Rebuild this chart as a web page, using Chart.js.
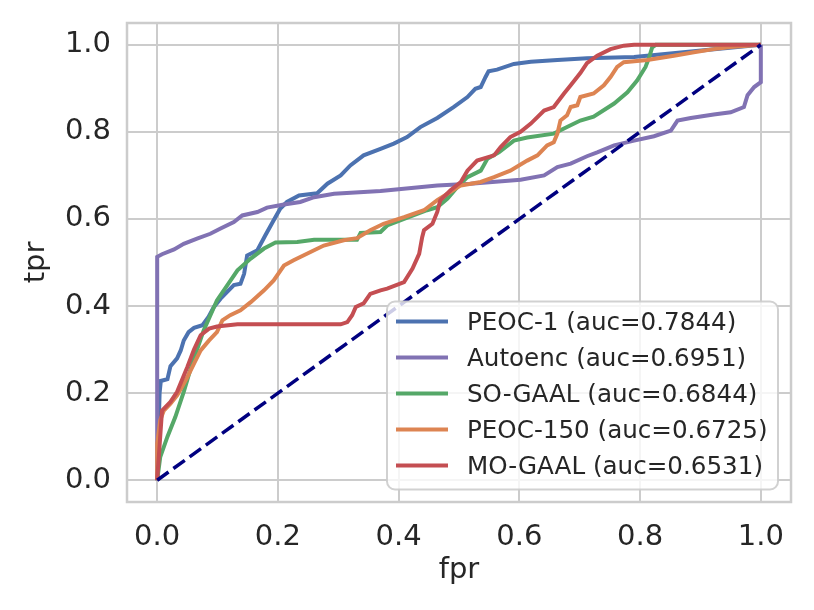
<!DOCTYPE html>
<html>
<head>
<meta charset="utf-8">
<script src="https://cdn.jsdelivr.net/npm/chart.js@4"></script>
<style>
  html, body { margin: 0; padding: 0; background: #fff; }
  #roc { display: block; }
</style>
</head>
<body>
<canvas id="roc" width="814" height="610"></canvas>
<script>
// ROC curves as [fpr, tpr] points
const peoc1 = [
    [0, 0], [0.004, 0.2], [0.006, 0.228], [0.017, 0.232], [0.022, 0.262], [0.033, 0.28], [0.039, 0.298],
    [0.044, 0.321], [0.052, 0.34], [0.061, 0.35], [0.075, 0.356], [0.085, 0.375], [0.094, 0.398],
    [0.105, 0.417], [0.127, 0.448], [0.138, 0.451], [0.144, 0.474], [0.149, 0.516], [0.166, 0.528],
    [0.179, 0.562], [0.193, 0.597], [0.204, 0.624], [0.215, 0.639], [0.235, 0.654], [0.265, 0.659],
    [0.282, 0.681], [0.304, 0.7], [0.32, 0.723], [0.342, 0.746], [0.37, 0.761], [0.392, 0.773],
    [0.414, 0.788], [0.436, 0.811], [0.464, 0.832], [0.491, 0.857], [0.514, 0.88], [0.527, 0.899],
    [0.536, 0.903], [0.544, 0.926], [0.549, 0.939], [0.563, 0.943], [0.591, 0.956], [0.619, 0.961],
    [0.663, 0.965], [0.712, 0.969], [0.79, 0.972], [1, 1]
]
const autoenc = [
    [0, 0], [0, 0.513], [0.008, 0.519], [0.028, 0.53], [0.044, 0.543], [0.066, 0.555], [0.088, 0.566],
    [0.105, 0.578], [0.127, 0.593], [0.141, 0.608], [0.166, 0.616], [0.182, 0.626], [0.21, 0.633],
    [0.237, 0.639], [0.26, 0.65], [0.293, 0.658], [0.37, 0.664], [0.464, 0.677], [0.519, 0.681],
    [0.602, 0.69], [0.641, 0.7], [0.663, 0.719], [0.685, 0.727], [0.712, 0.744], [0.729, 0.753],
    [0.757, 0.769], [0.79, 0.78], [0.823, 0.79], [0.851, 0.803], [0.862, 0.826], [0.884, 0.832],
    [0.922, 0.84], [0.95, 0.845], [0.972, 0.857], [0.978, 0.884], [0.989, 0.903], [1, 0.914], [1, 1]
]
const soGaal = [
    [0, 0], [0.005, 0.053], [0.017, 0.1], [0.03, 0.145], [0.044, 0.203], [0.058, 0.268], [0.077, 0.344],
    [0.099, 0.413], [0.133, 0.482], [0.155, 0.509], [0.177, 0.532], [0.196, 0.546], [0.232, 0.547],
    [0.26, 0.552], [0.331, 0.552], [0.337, 0.568], [0.37, 0.57], [0.381, 0.585], [0.409, 0.6],
    [0.447, 0.62], [0.464, 0.627], [0.481, 0.647], [0.497, 0.673], [0.514, 0.696], [0.536, 0.711],
    [0.547, 0.738], [0.566, 0.753], [0.591, 0.78], [0.613, 0.787], [0.657, 0.796], [0.679, 0.811],
    [0.701, 0.826], [0.723, 0.835], [0.757, 0.865], [0.779, 0.891], [0.795, 0.918], [0.809, 0.949],
    [0.815, 0.971], [0.82, 0.994], [0.826, 1], [1, 1]
]
const peoc150 = [
    [0, 0], [0, 0.084], [0.005, 0.138], [0.011, 0.16], [0.022, 0.176], [0.033, 0.195], [0.041, 0.214],
    [0.05, 0.237], [0.061, 0.268], [0.072, 0.298], [0.086, 0.321], [0.099, 0.34], [0.108, 0.367],
    [0.121, 0.379], [0.138, 0.39], [0.155, 0.409], [0.177, 0.436], [0.193, 0.459], [0.21, 0.493],
    [0.226, 0.505], [0.254, 0.524], [0.276, 0.539], [0.309, 0.551], [0.331, 0.556], [0.353, 0.574],
    [0.375, 0.589], [0.409, 0.604], [0.442, 0.62], [0.464, 0.643], [0.503, 0.677], [0.536, 0.685],
    [0.558, 0.696], [0.585, 0.711], [0.613, 0.734], [0.63, 0.746], [0.646, 0.769], [0.657, 0.776],
    [0.663, 0.796], [0.668, 0.826], [0.679, 0.838], [0.685, 0.857], [0.696, 0.861], [0.701, 0.88],
    [0.723, 0.888], [0.74, 0.907], [0.751, 0.926], [0.762, 0.949], [0.773, 0.96], [0.812, 0.965],
    [0.856, 0.975], [0.889, 0.983], [0.922, 0.99], [0.95, 0.995], [1, 1]
]
const moGaal = [
    [0, 0], [0.008, 0.16], [0.022, 0.18], [0.033, 0.203], [0.05, 0.26], [0.061, 0.3], [0.072, 0.333],
    [0.086, 0.348], [0.099, 0.353], [0.133, 0.358], [0.304, 0.358], [0.315, 0.363], [0.323, 0.379],
    [0.329, 0.398], [0.342, 0.406], [0.353, 0.428], [0.37, 0.436], [0.381, 0.44], [0.409, 0.455],
    [0.423, 0.486], [0.434, 0.52], [0.439, 0.558], [0.442, 0.574], [0.456, 0.589], [0.464, 0.616],
    [0.469, 0.643], [0.486, 0.666], [0.503, 0.685], [0.514, 0.711], [0.53, 0.734], [0.558, 0.746],
    [0.569, 0.765], [0.585, 0.788], [0.602, 0.8], [0.619, 0.819], [0.641, 0.849], [0.657, 0.857],
    [0.674, 0.888], [0.685, 0.907], [0.701, 0.935], [0.712, 0.958], [0.729, 0.975], [0.751, 0.99],
    [0.773, 0.998], [0.79, 1], [1, 1]
]
const chance = [[0, 0], [1, 1]]

const seriesNames = ['PEOC-1 (auc=0.7844)', 'Autoenc (auc=0.6951)', 'SO-GAAL (auc=0.6844)',
    'PEOC-150 (auc=0.6725)', 'MO-GAAL (auc=0.6531)']
const seriesColors = ['#4c72b0', '#8172b3', '#55a868', '#dd8452', '#c44e52']
const axisTicks = [0, 0.2, 0.4, 0.6, 0.8, 1.0]
const tickLabels = ['0.0', '0.2', '0.4', '0.6', '0.8', '1.0']

const FONT = 'DejaVu Sans'
const TEXT = '#262626'
const GRID = '#cccccc'

const toPoints = (pairs) => pairs.map(([x, y]) => ({x, y}))

// lower "order" is drawn on top, so the last matplotlib line gets the lowest
const curves = [peoc1, autoenc, soGaal, peoc150, moGaal]
const datasets = curves.map((pairs, i) => ({
    label: seriesNames[i],
    data: toPoints(pairs),
    borderColor: seriesColors[i],
    borderWidth: 4,
    pointRadius: 0,
    tension: 0,
    fill: false,
    order: 10 - i,
}))
datasets.push({
    label: 'chance',
    data: toPoints(chance),
    borderColor: '#000080',
    borderWidth: 3.5,
    borderDash: [14, 6],
    pointRadius: 0,
    fill: false,
    order: 0,
})

// axes frame (all four spines)
const framePlugin = {
    id: 'frame',
    beforeDatasetsDraw(chart) {
        const {ctx, chartArea: a} = chart
        ctx.save()
        ctx.strokeStyle = GRID
        ctx.lineWidth = 2.5
        ctx.strokeRect(a.left, a.top, a.right - a.left, a.bottom - a.top)
        ctx.restore()
    }
}

// matplotlib-like legend box in the lower right corner of the plot
const legendPlugin = {
    id: 'boxLegend',
    afterDraw(chart) {
        const {ctx, chartArea: a} = chart
        const right = a.right - 13
        const bottom = a.bottom - 12.5
        const w = 391, h = 188, r = 8
        const left = right - w, top = bottom - h
        ctx.save()
        ctx.beginPath()
        ctx.roundRect(left, top, w, h, r)
        ctx.fillStyle = 'rgba(255,255,255,0.8)'
        ctx.fill()
        ctx.strokeStyle = 'rgba(204,204,204,0.9)'
        ctx.lineWidth = 2
        ctx.stroke()
        ctx.font = `24.6px "${FONT}"`
        ctx.textBaseline = 'alphabetic'
        ctx.textAlign = 'left'
        seriesNames.forEach((name, i) => {
            const y = top + 20 + i * 36
            ctx.beginPath()
            ctx.moveTo(left + 9, y)
            ctx.lineTo(left + 61, y)
            ctx.strokeStyle = seriesColors[i]
            ctx.lineWidth = 4
            ctx.stroke()
            ctx.fillStyle = TEXT
            ctx.fillText(name, left + 80, y + 8.9)
        })
        ctx.restore()
    }
}

const tickFont = {family: FONT, size: 29}

new Chart(document.getElementById('roc'), {
    type: 'line',
    data: {datasets},
    options: {
        responsive: false,
        animation: false,
        devicePixelRatio: 1,
        layout: {padding: {top: 23, right: 23, left: 0, bottom: 0}},
        plugins: {legend: {display: false}, tooltip: {enabled: false}},
        scales: {
            x: {
                type: 'linear',
                min: -0.05,
                max: 1.05,
                afterBuildTicks: (s) => { s.ticks = axisTicks.map(v => ({value: v})) },
                afterFit: (s) => { s.height = 108 },
                grid: {color: GRID, lineWidth: 2, drawTicks: false},
                border: {display: false},
                ticks: {padding: 18, color: TEXT, font: tickFont, maxRotation: 0, callback: (v, i) => tickLabels[i]},
                title: {display: true, text: 'fpr', color: TEXT, font: tickFont, padding: {top: 0, bottom: 22}},
            },
            y: {
                type: 'linear',
                min: -0.05,
                max: 1.05,
                afterBuildTicks: (s) => { s.ticks = axisTicks.map(v => ({value: v})) },
                afterFit: (s) => {
                    s.width = 127
                    s.paddingTop = 0
                    s.paddingBottom = 0
                },
                grid: {color: GRID, lineWidth: 2, drawTicks: false},
                border: {display: false},
                ticks: {padding: 16, color: TEXT, font: tickFont, callback: (v, i) => tickLabels[i]},
                title: {display: true, text: 'tpr', color: TEXT, font: tickFont, padding: {top: 19, bottom: 0}},
            }
        }
    },
    plugins: [framePlugin, legendPlugin]
})
</script>
</body>
</html>
